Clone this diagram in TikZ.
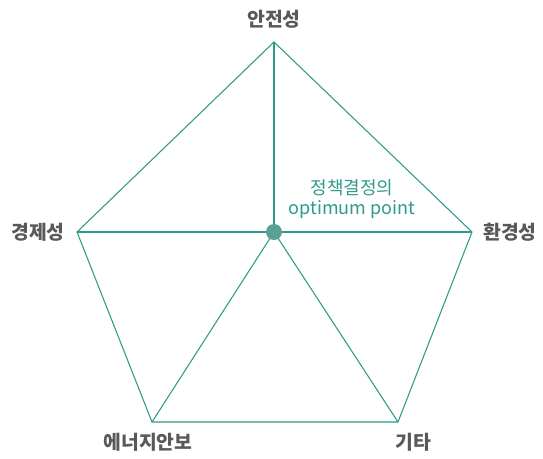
\documentclass[tikz,border=0pt]{standalone}
\usepackage{fontspec}
\newfontfamily\kr{Noto Sans CJK KR}
\definecolor{edgeteal}{HTML}{2E9A8A}
\definecolor{dotteal}{HTML}{5AA095}
\definecolor{labelgray}{HTML}{595959}

\begin{document}
\begin{tikzpicture}[x=0.75pt, y=-0.75pt,
  edge/.style={draw=edgeteal, line width=0.8pt},
  axis/.style={font=\kr\bfseries\fontsize{14.5}{16}\selectfont, text=labelgray},
  note/.style={font=\kr\fontsize{13.5}{15.5}\selectfont, text=edgeteal, align=center}
]
\useasboundingbox (0,0) rectangle (543,458);

\coordinate (safety) at (274,42);
\coordinate (env) at (472,232);
\coordinate (etc) at (398,422);
\coordinate (energy) at (152,422);
\coordinate (econ) at (77,232);
\coordinate (center) at (274,232);

\draw [edge] (safety) -- (env) -- (etc) -- (energy) -- (econ) -- cycle;
\foreach \v in {safety, env, etc, energy, econ}
  \draw [edge] (center) -- (\v);
\fill [dotteal] (center) circle (8);

\node (lsafety) [axis] at (274,19) {안전성};
\node (lenv) [axis] at (510,232) {환경성};
\node (letc) [axis] at (413,442) {기타};
\node (lenergy) [axis] at (148,442) {에너지안보};
\node (lecon) [axis] at (38,232) {경제성};
\node (optimum) [note] at (352,199) {정책결정의\\optimum point};

\end{tikzpicture}
\end{document}
